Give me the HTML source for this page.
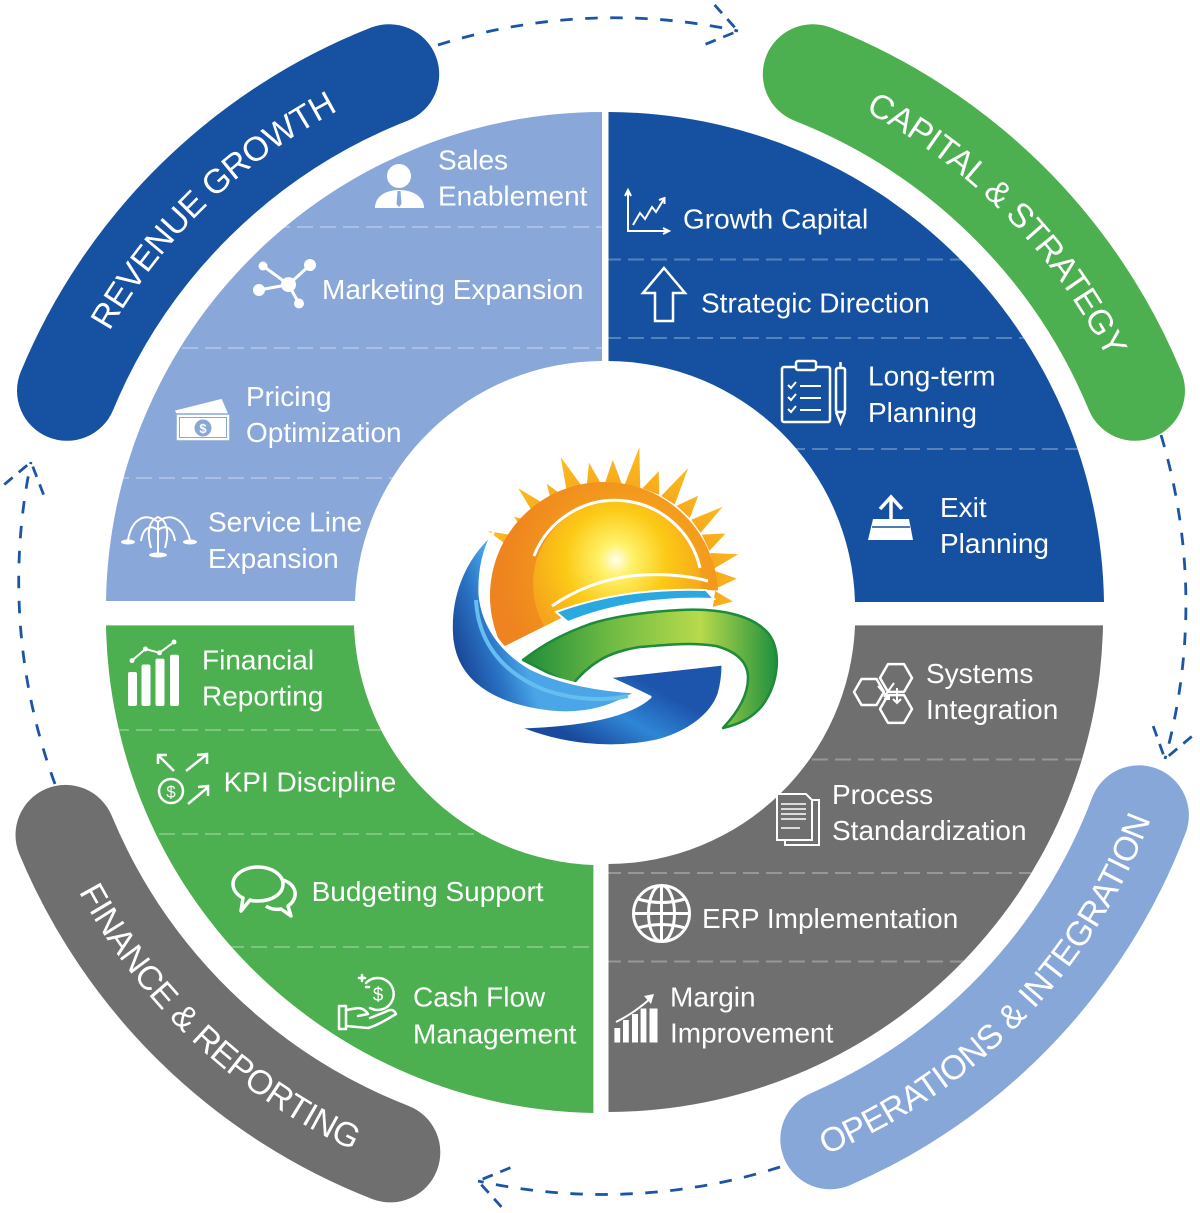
<!DOCTYPE html>
<html>
<head>
<meta charset="utf-8">
<style>
  html,body{margin:0;padding:0;background:#fff;}
  svg{display:block;}
  .t{font-family:"Liberation Sans",Arial,sans-serif;font-size:28px;fill:#fff;}
  .b{font-family:"Liberation Sans",Arial,sans-serif;font-size:34px;fill:#fff;letter-spacing:-0.5px;}
</style>
</head>
<body>
<svg width="1200" height="1213" viewBox="0 0 1200 1213" xmlns="http://www.w3.org/2000/svg">
<defs>
  <path id="qTL" d="M602,112 A497,497 0 0 0 106,601 L355,601 A248,248 0 0 1 602,361 Z"/>
  <path id="qTR" d="M608.5,112 A497,497 0 0 1 1104,602 L855,602 A248,248 0 0 0 608.5,361 Z"/>
  <path id="qBR" d="M1103,625.4 A496,496 0 0 1 608.5,1112 L608.5,864 A248,248 0 0 0 855,625.4 Z"/>
  <path id="qBL" d="M593.4,1113 A496,496 0 0 1 106,625.4 L354,625.4 A248,248 0 0 0 593.4,865 Z"/>
  <clipPath id="cTL"><use href="#qTL"/></clipPath>
  <clipPath id="cTR"><use href="#qTR"/></clipPath>
  <clipPath id="cBR"><use href="#qBR"/></clipPath>
  <clipPath id="cBL"><use href="#qBL"/></clipPath>

  <path id="tpRev" d="M56.9,456 A566,566 0 0 1 464.1,62.8"/>
  <path id="tpCap" d="M753.2,66.8 A566,566 0 0 1 1149.2,471.2"/>
  <path id="tpFin" d="M33.5,782.3 A592.5,592.5 0 0 0 464.7,1188.6"/>
  <path id="tpOps" d="M762,1177 A587.5,587.5 0 0 0 1170.8,755.1"/>

  <radialGradient id="sunG" cx="616" cy="560" r="92" gradientUnits="userSpaceOnUse">
    <stop offset="0" stop-color="#fffdf0"/>
    <stop offset="0.18" stop-color="#fff26a"/>
    <stop offset="0.55" stop-color="#fcca16"/>
    <stop offset="1" stop-color="#f6a41c"/>
  </radialGradient>
  <radialGradient id="orG" cx="635" cy="570" r="135" gradientUnits="userSpaceOnUse">
    <stop offset="0" stop-color="#f9b81a"/>
    <stop offset="1" stop-color="#ee831f"/>
  </radialGradient>
  <linearGradient id="rayG" x1="0" y1="445" x2="0" y2="500" gradientUnits="userSpaceOnUse">
    <stop offset="0" stop-color="#fbbf1e"/>
    <stop offset="1" stop-color="#f5a21c"/>
  </linearGradient>
  <linearGradient id="blA" x1="452" y1="640" x2="510" y2="620" gradientUnits="userSpaceOnUse">
    <stop offset="0" stop-color="#1b4797"/>
    <stop offset="0.55" stop-color="#2a74c6"/>
    <stop offset="1" stop-color="#4aa6e6"/>
  </linearGradient>
  <linearGradient id="blB" x1="600" y1="752" x2="640" y2="680" gradientUnits="userSpaceOnUse">
    <stop offset="0" stop-color="#1a4a9e"/>
    <stop offset="0.5" stop-color="#2f86d6"/>
    <stop offset="1" stop-color="#1d55ad"/>
  </linearGradient>
  <linearGradient id="grG" x1="523" y1="660" x2="776" y2="660" gradientUnits="userSpaceOnUse">
    <stop offset="0" stop-color="#1f8c3b"/>
    <stop offset="0.35" stop-color="#6fbb43"/>
    <stop offset="0.7" stop-color="#b8da4c"/>
    <stop offset="1" stop-color="#21913d"/>
  </linearGradient>
  <clipPath id="sunClip">
    <polygon points="440,420 790,420 790,594 706,590 650,592 600,603 573,612 507,645 470,665 440,665"/>
  </clipPath>
</defs>

<!-- outer dashed arcs -->
<g fill="none" stroke="#1c55a4" stroke-width="2.8" stroke-dasharray="12.5 12.5">
  <path d="M438,45 A585,585 0 0 1 738,31"/>
  <path d="M1161,435 A585,585 0 0 1 1165,759"/>
  <path d="M780,1167 A585,585 0 0 1 478,1181"/>
  <path d="M55,784 A585,585 0 0 1 31,462"/>
</g>
<g fill="none" stroke="#1c55a4" stroke-width="2.8" stroke-dasharray="11 8" stroke-dashoffset="-5">
  <path d="M738,31 L701,46"/><path d="M738,31 L711,1"/>
  <path d="M1165,759 L1197,732"/><path d="M1165,759 L1151,720"/>
  <path d="M478,1181 L506,1212"/><path d="M478,1181 L517,1165"/>
  <path d="M31,462 L-1,489"/><path d="M31,462 L46,501"/>
</g>

<!-- outer bands -->
<g fill="none" stroke-width="100" stroke-linecap="round">
  <path d="M67,390.8 A578,578 0 0 1 389.2,74.2" stroke="#1651a2"/>
  <path d="M812.8,74.2 A578,578 0 0 1 1135,390.8" stroke="#4caf50"/>
  <path d="M1138.9,815.3 A575,575 0 0 1 830.3,1139.3" stroke="#88a7d9"/>
  <path d="M390.3,1152.4 A580,580 0 0 1 65.5,834.9" stroke="#6f6f6f"/>
</g>
<text class="b"><textPath href="#tpRev" startOffset="50%" text-anchor="middle">REVENUE GROWTH</textPath></text>
<text class="b"><textPath href="#tpCap" startOffset="50%" text-anchor="middle">CAPITAL &amp; STRATEGY</textPath></text>
<text class="b"><textPath href="#tpFin" startOffset="50%" text-anchor="middle">FINANCE &amp; REPORTING</textPath></text>
<text class="b"><textPath href="#tpOps" startOffset="50%" text-anchor="middle">OPERATIONS &amp; INTEGRATION</textPath></text>

<!-- quadrants -->
<use href="#qTL" fill="#89a7d8"/>
<use href="#qTR" fill="#1651a1"/>
<use href="#qBR" fill="#6f6f6f"/>
<use href="#qBL" fill="#4caf50"/>

<!-- separators -->
<g stroke="#fff" stroke-width="2" stroke-opacity="0.28" stroke-dasharray="16 7">
  <g clip-path="url(#cTL)"><path d="M90,227 H605 M90,348 H605 M90,478 H605"/></g>
  <g clip-path="url(#cTR)"><path d="M605,259.5 H1110 M605,338 H1110 M605,449 H1110"/></g>
  <g clip-path="url(#cBL)"><path d="M90,730 H600 M90,834 H600 M90,947 H600"/></g>
  <g clip-path="url(#cBR)"><path d="M605,759.5 H1110 M605,873 H1110 M605,961.5 H1110"/></g>
</g>

<!-- TL texts -->
<text class="t" x="438" y="169.5">Sales</text>
<text class="t" x="438" y="205.5">Enablement</text>
<text class="t" x="322" y="299">Marketing Expansion</text>
<text class="t" x="246" y="406">Pricing</text>
<text class="t" x="246" y="442">Optimization</text>
<text class="t" x="208" y="531.5">Service Line</text>
<text class="t" x="208" y="568">Expansion</text>

<!-- TR texts -->
<text class="t" x="683" y="228.5">Growth Capital</text>
<text class="t" x="701" y="312.5">Strategic Direction</text>
<text class="t" x="868" y="385.5">Long-term</text>
<text class="t" x="868" y="422">Planning</text>
<text class="t" x="940" y="517">Exit</text>
<text class="t" x="940" y="553">Planning</text>

<!-- BL texts -->
<text class="t" x="202" y="669.6">Financial</text>
<text class="t" x="202" y="705.5">Reporting</text>
<text class="t" x="223.6" y="791.5">KPI Discipline</text>
<text class="t" x="311.6" y="901">Budgeting Support</text>
<text class="t" x="413" y="1006.6">Cash Flow</text>
<text class="t" x="413" y="1043.7">Management</text>

<!-- BR texts -->
<text class="t" x="926" y="683">Systems</text>
<text class="t" x="926" y="719">Integration</text>
<text class="t" x="832" y="804">Process</text>
<text class="t" x="832" y="840">Standardization</text>
<text class="t" x="702" y="928">ERP Implementation</text>
<text class="t" x="670" y="1006.6">Margin</text>
<text class="t" x="670" y="1042.5">Improvement</text>

<!-- ICONS -->
<!-- Sales person -->
<circle cx="399" cy="176" r="12" fill="#fff"/>
<path d="M375,208 C375,196 386,190 399,190 C412,190 424,196 424,208 Z" fill="#fff"/>
<path d="M397.5,191 L400.5,191 L401.5,204 L399,207 L396.5,204 Z" fill="#89a7d8"/>

<!-- Marketing network -->
<g stroke="#fff" stroke-width="3">
  <line x1="288.5" y1="284.6" x2="263" y2="266"/>
  <line x1="288.5" y1="284.6" x2="310" y2="265"/>
  <line x1="288.5" y1="284.6" x2="259" y2="290"/>
  <line x1="288.5" y1="284.6" x2="299" y2="303.5"/>
</g>
<g fill="#fff">
  <circle cx="288.5" cy="284.6" r="7.5"/>
  <circle cx="263" cy="266" r="4.5"/>
  <circle cx="310" cy="265" r="6"/>
  <circle cx="259" cy="290" r="6"/>
  <circle cx="299" cy="303.5" r="5"/>
</g>

<!-- Pricing money -->
<polygon points="174,410 222,398 229,414 181,426" fill="#fff" stroke="#89a7d8" stroke-width="1.5"/>
<rect x="176" y="414" width="54" height="27" fill="#fff" stroke="#89a7d8" stroke-width="1.5"/>
<rect x="179.5" y="417.5" width="47" height="20" fill="none" stroke="#89a7d8" stroke-width="1"/>
<circle cx="203" cy="428" r="8.5" fill="#89a7d8"/>
<text x="203" y="433" font-family="Liberation Sans, Arial, sans-serif" font-size="13" font-weight="bold" fill="#fff" text-anchor="middle">$</text>

<!-- Fountain -->
<g fill="none" stroke="#fff" stroke-width="2">
  <path d="M158,553 L158,522"/>
  <path d="M158,522 C146,512 132,518 128,540"/>
  <path d="M158,522 C170,512 184,518 190,540"/>
  <path d="M158,530 C150,524 143,528 141,541"/>
  <path d="M158,530 C166,524 173,528 175,541"/>
  <path d="M151,548 C146,530 150,520 158,517 C166,520 170,530 165,548"/>
</g>
<g fill="#fff">
  <ellipse cx="128" cy="542" rx="7" ry="2.5"/>
  <ellipse cx="190" cy="542" rx="7" ry="2.5"/>
  <ellipse cx="158" cy="555" rx="9" ry="2.5"/>
</g>

<!-- Growth chart -->
<g fill="none" stroke="#fff" stroke-width="2">
  <path d="M628,192 L628,231 L667,231"/>
  <path d="M625,196 L628,190 L631,196"/>
  <path d="M663,228 L669,231 L663,234"/>
  <path d="M633,225 L640,213 L645,219 L652,207 L656,212 L664,199"/>
  <path d="M659,200 L664.5,198 L664.5,204"/>
</g>

<!-- Up arrow -->
<path d="M664,268 L685,293 L673,293 L673,321 L655,321 L655,293 L643,293 Z" fill="none" stroke="#fff" stroke-width="2.5"/>

<!-- Clipboard -->
<g fill="none" stroke="#fff" stroke-width="2.5">
  <rect x="782" y="367" width="48" height="55" rx="2"/>
  <rect x="796" y="361" width="20" height="9" rx="2" fill="#1651a1"/>
  <path d="M788,385 L791,388 L796,382 M788,397 L791,400 L796,394 M788,409 L791,412 L796,406" stroke-width="2"/>
  <path d="M800,386 L821,386 M800,398 L821,398 M800,410 L821,410" stroke-width="2"/>
  <rect x="836" y="368" width="9" height="44" rx="2"/>
  <path d="M836,412 L840.5,423 L845,412 M840.5,362 L840.5,368"/>
</g>

<!-- Exit -->
<path d="M891,527 L891,498 M880,509 L891,497 L902,509" fill="none" stroke="#fff" stroke-width="3.5"/>
<path d="M873,519 L909,519 L913,540 L868,540 Z" fill="#fff"/>
<path d="M872,527 L910,527" stroke="#1651a1" stroke-width="1.5"/>

<!-- Financial bars -->
<g fill="#fff">
  <rect x="128" y="672" width="9" height="34" rx="2"/>
  <rect x="141.5" y="664.5" width="9" height="41.5" rx="2"/>
  <rect x="155.5" y="658.6" width="9" height="47.4" rx="2"/>
  <rect x="170" y="654.7" width="9" height="51.3" rx="2"/>
  <circle cx="132" cy="660.6" r="2.5"/>
  <circle cx="145.4" cy="649" r="2.5"/>
  <circle cx="159.5" cy="652.8" r="2.5"/>
  <circle cx="174" cy="642" r="2.5"/>
</g>
<polyline points="132,660.6 145.4,649 159.5,652.8 174,642" fill="none" stroke="#fff" stroke-width="2"/>

<!-- KPI -->
<g fill="none" stroke="#fff" stroke-width="2.5">
  <circle cx="171" cy="791" r="12"/>
  <path d="M174,771 L158,755 M158,764 L158,755 L167,755"/>
  <path d="M186,771 L206,755 M197,755 L207,754 L207,764"/>
  <path d="M188,804 L207,788 M198,787 L208,786 L208,796"/>
</g>
<text x="171" y="797.5" font-family="Liberation Sans, Arial, sans-serif" font-size="17" fill="#fff" text-anchor="middle">$</text>

<!-- Chat bubbles -->
<g fill="none" stroke="#fff" stroke-width="3.5" stroke-linejoin="round">
  <path d="M283,880 C292,883 296,889 295,896 C294,901 291,904 288,906 L291,916 L281,909 C276,910 270,909 266,906"/>
  <path d="M258,867 C272,867 283,875 283,884 C283,894 272,901 258,901 C255,901 252,901 250,900 L241,911 L243,898 C237,895 233,890 233,884 C233,875 244,867 258,867 Z" fill="#4caf50"/>
</g>

<!-- Cash hand -->
<g fill="none" stroke="#fff" stroke-width="2.5" stroke-linecap="round" stroke-linejoin="round">
  <path d="M366,983 A16,16 0 1 1 370,1008"/>
  <path d="M359,978 L365,978 M362,975 L362,981 M366,987 L369,987"/>
  <rect x="339" y="1006" width="7" height="23"/>
  <path d="M346,1010 L358,1008 C363,1008 366,1011 368,1014 L358,1016"/>
  <path d="M346,1026 L368,1028 C376,1026 386,1020 396,1014 C394,1009 390,1009 385,1012 L370,1018"/>
</g>
<text x="378" y="1001" font-family="Liberation Sans, Arial, sans-serif" font-size="19" fill="#fff" text-anchor="middle">$</text>

<!-- Hexagons -->
<g fill="#6f6f6f" stroke="#fff" stroke-width="2.5" stroke-linejoin="round">
  <polygon points="854,692 861.5,679 876.5,679 884,692 876.5,705 861.5,705"/>
  <polygon points="880,678 888,664.1 904,664.1 912,678 904,691.9 888,691.9"/>
  <polygon points="880,709 888,695.1 904,695.1 912,709 904,722.9 888,722.9"/>
</g>
<g fill="none" stroke="#fff" stroke-width="2">
  <path d="M878,686 L889,699 M884,699 L889,699 L889,694"/>
  <path d="M894,683 L884,697"/>
  <path d="M897,688 L897,703 M893,699 L897,703 L901,699"/>
</g>

<!-- Document -->
<rect x="785" y="800" width="34" height="45" fill="none" stroke="#fff" stroke-width="2"/>
<path d="M777,794 L806,794 L812,800 L812,840 L777,840 Z" fill="#6f6f6f" stroke="#fff" stroke-width="2"/>
<path d="M781,804 L806,804 M781,809 L806,809 M781,814 L806,814 M781,819 L806,819 M781,828 L800,828" stroke="#fff" stroke-width="1.5"/>

<!-- Globe -->
<g fill="none" stroke="#fff" stroke-width="3">
  <circle cx="661.5" cy="913.5" r="28"/>
  <ellipse cx="661.5" cy="913.5" rx="13" ry="28"/>
  <path d="M661.5,885.5 L661.5,941.5 M633.5,913.5 L689.5,913.5"/>
  <path d="M638,899 Q661.5,906 685,899 M638,928 Q661.5,921 685,928"/>
</g>

<!-- Margin bars -->
<g fill="#fff">
  <rect x="614.4" y="1028" width="5.8" height="14.5"/>
  <rect x="623" y="1020" width="5.8" height="22.5"/>
  <rect x="632" y="1014" width="6" height="28.5"/>
  <rect x="640.6" y="1008.5" width="5.8" height="34"/>
  <rect x="649.5" y="1008.5" width="8" height="34"/>
</g>
<path d="M616,1022 C630,1015 640,1008 651,998" fill="none" stroke="#fff" stroke-width="2"/>
<path d="M644,996 L654,994 L651,1004 Z" fill="#fff"/>

<!-- LOGO -->
<g>
  <g fill="url(#rayG)">
    <polygon points="606,485 624,485 615,447" transform="rotate(-67 615 585)"/>
    <polygon points="607,485 623,485 615,463" transform="rotate(-56 615 585)"/>
    <polygon points="606,485 624,485 615,448" transform="rotate(-45 615 585)"/>
    <polygon points="607,485 623,485 615,463" transform="rotate(-34 615 585)"/>
    <polygon points="606,485 624,485 615,446" transform="rotate(-23 615 585)"/>
    <polygon points="607,485 623,485 615,460" transform="rotate(-12 615 585)"/>
    <polygon points="606,485 624,485 615,460" transform="rotate(-1 615 585)"/>
    <polygon points="607,485 623,485 615,445" transform="rotate(10 615 585)"/>
    <polygon points="606,485 624,485 615,463" transform="rotate(21 615 585)"/>
    <polygon points="607,485 623,485 615,447" transform="rotate(32 615 585)"/>
    <polygon points="606,485 624,485 615,463" transform="rotate(43 615 585)"/>
    <polygon points="607,485 623,485 615,452" transform="rotate(54 615 585)"/>
    <polygon points="606,485 624,485 615,463" transform="rotate(65 615 585)"/>
    <polygon points="607,485 623,485 615,458" transform="rotate(76 615 585)"/>
    <polygon points="606,485 624,485 615,463" transform="rotate(87 615 585)"/>
    <polygon points="607,485 623,485 615,466" transform="rotate(98 615 585)"/>
  </g>
  <g clip-path="url(#sunClip)">
    <circle cx="604" cy="596" r="114" fill="url(#orG)"/>
    <circle cx="617" cy="584" r="84" fill="url(#sunG)"/>
    <path d="M534,556 A87,87 0 0 1 700,568" fill="none" stroke="#fff" stroke-width="3"/>
    <path d="M552,606 C575,590 600,580 630,576 C660,573 685,575 708,581" fill="none" stroke="#fff" stroke-width="3"/>
  </g>
  <!-- cyan stripe -->
  <path d="M556,612 C600,596 650,588 706,590 L714,599 C660,597 610,605 568,622 Z" fill="#2aa8e0" stroke="#fff" stroke-width="2"/>
  <!-- green swoosh -->
  <path id="gsw" d="M523,660 C545,643 565,633 590,624 C615,616 645,612 680,610 C720,608 752,615 768,633 C782,650 779,683 762,706 C752,718 740,724 723,728 C738,712 748,695 748,678 C748,663 738,652 716,646 C690,642 665,645 640,647 C625,649 610,654 600,660 C590,666 580,675 572,685 Z" fill="none" stroke="#fff" stroke-width="6"/>
  <path d="M523,660 C545,643 565,633 590,624 C615,616 645,612 680,610 C720,608 752,615 768,633 C782,650 779,683 762,706 C752,718 740,724 723,728 C738,712 748,695 748,678 C748,663 738,652 716,646 C690,642 665,645 640,647 C625,649 610,654 600,660 C590,666 580,675 572,685 Z" fill="url(#grG)" stroke="#1e8a3b" stroke-width="2.5" stroke-linejoin="round"/>
  <!-- blue band A -->
  <path d="M493,533 C462,560 448,600 452,640 C457,680 490,705 550,712 C590,716 615,705 637,692 C600,690 560,683 530,668 C500,650 483,625 480,595 C479,570 484,550 493,533 Z" fill="url(#blA)" stroke="#fff" stroke-width="3" stroke-linejoin="round"/>
  <path d="M476,600 C478,640 500,672 545,690 C580,702 610,700 628,696" fill="none" stroke="#66bdf0" stroke-width="4"/>
  <!-- blue band B + bar -->
  <path d="M517,727 C560,745 610,751 657,741 C690,732 712,714 719,694 C722,684 723,674 723,664 L607,677 C625,685 640,692 650,697 C636,710 600,725 517,727 Z" fill="url(#blB)" stroke="#fff" stroke-width="3" stroke-linejoin="round"/>
</g>
</svg>
</body>
</html>
